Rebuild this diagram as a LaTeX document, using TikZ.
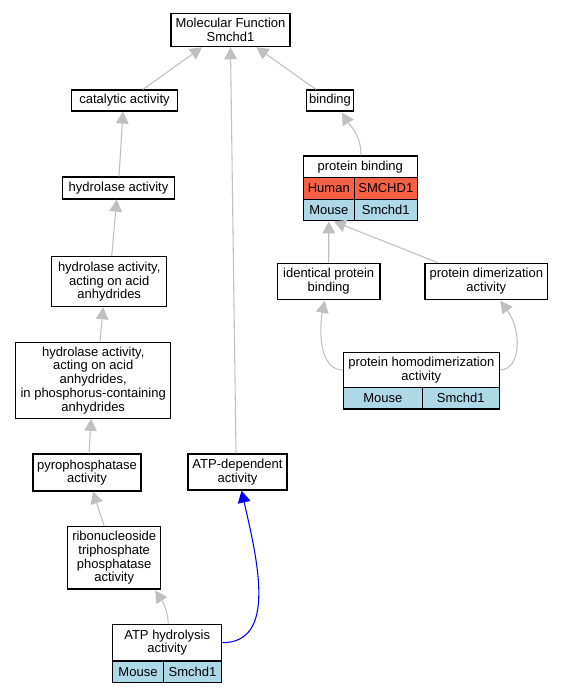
\documentclass[tikz,border=0pt]{standalone}
\usepackage{fontspec}
\setmainfont{Liberation Sans}
\usetikzlibrary{arrows.meta,calc}
\definecolor{edgegray}{RGB}{192,192,192}
\definecolor{humanred}{RGB}{250,97,68}
\definecolor{mouseblue}{RGB}{173,216,230}
\begin{document}
\begin{tikzpicture}[x=0.75pt,y=-0.75pt,
  box/.style={draw=black, line width=0.85pt, fill=white, inner sep=0pt, align=center,
    font=\fontsize{9.75}{10.3}\selectfont},
  sz/.style 2 args={minimum width=#1*0.75pt, minimum height=#2*0.75pt},
  human/.style={box, fill=humanred},
  mouse/.style={box, fill=mouseblue},
  edge/.style={draw=edgegray, line width=0.8pt, -{Triangle[length=9pt,width=9.5pt]}},
  blueedge/.style={draw=blue, line width=0.8pt, -{Triangle[length=9pt,width=9.5pt]}}]
\useasboundingbox (0,0) rectangle (564,693);

% plain nodes
\node[box, sz={119}{33.4}] (mf) at (230.5,30) {Molecular Function\\Smchd1};
\node[box, sz={105.6}{21}] (cat) at (124.5,100.5) {catalytic activity};
\node[box, sz={46.6}{21}] (bind) at (330,100.5) {binding};
\node[box, sz={111.6}{22}] (hyd) at (118.5,188) {hydrolase activity};
\node[box, sz={115}{50}] (hyda) at (109.2,281.7) {hydrolase activity,\\acting on acid\\anhydrides};
\node[box, sz={102.7}{36}] (idp) at (328.7,281.3) {identical protein\\binding};
\node[box, sz={122.7}{36}] (dim) at (486.3,281.3) {protein dimerization\\activity};
\node[box, sz={155}{76}] (hydp) at (93.2,380.3) {hydrolase activity,\\acting on acid\\anhydrides,\\in phosphorus-containing\\anhydrides};
\node[box, sz={108}{37}] (pyro) at (87,472.5) {pyrophosphatase\\activity};
\node[box, sz={99}{36}] (atpd) at (237.5,472) {ATP-dependent\\activity};
\node[box, sz={93}{62.3}] (ribo) at (114.2,557.8) {ribonucleoside\\triphosphate\\phosphatase\\activity};

% protein binding table
\node[box, sz={114}{21.7}] (pb) at (360.3,166.8) {protein binding};
\node[human, sz={51}{21.6}] (pbh1) at (328.8,188.5) {Human};
\node[human, sz={63}{21.6}] (pbh2) at (385.8,188.5) {SMCHD1};
\node[mouse, sz={51}{21.6}] (pbm1) at (328.8,210.1) {Mouse};
\node[mouse, sz={63}{21.6}] (pbm2) at (385.8,210.1) {Smchd1};

% protein homodimerization table
\node[box, sz={156}{35.4}] (hd) at (421.3,370) {protein homodimerization\\activity};
\node[mouse, sz={79}{21.3}] (hdm1) at (382.8,398.3) {Mouse};
\node[mouse, sz={77}{21.3}] (hdm2) at (460.8,398.3) {Smchd1};

% ATP hydrolysis table
\node[box, sz={109}{36.7}] (ah) at (167.2,642.7) {ATP hydrolysis\\activity};
\node[mouse, sz={50.6}{21.3}] (ahm1) at (138,671.7) {Mouse};
\node[mouse, sz={58.4}{21.3}] (ahm2) at (192.5,671.7) {Smchd1};

% edges
\draw[edge] ($(cat.north)+(18.5,0)$) -- ($(mf.south)+(-28.5,0)$);
\draw[edge] ($(atpd.north)+(-1.5,0)$) -- (mf.south);
\draw[edge] ($(bind.north)+(-14,0)$) -- ($(mf.south)+(26,0)$);
\draw[edge] ($(hyd.north)+(0.5,0)$) -- ($(cat.south)+(-1.5,0)$);
\draw[edge] ($(pb.north)+(0.7,0)$) .. controls ($(pb.north)+(0.7,-21)$) and ($(bind.south)+(20,14)$) .. ($(bind.south)+(12,1)$);
\draw[edge] ($(hyda.north)+(2.5,0)$) -- ($(hyd.south)+(-1.8,0)$);
\draw[edge] (idp.north) -- (pbm1.south);
\draw[edge] ($(dim.north)+(-48.3,0)$) -- ($(pbm1.south)+(5,0)$);
\draw[edge] ($(hydp.north)+(6.8,0)$) -- ($(hyda.south)+(-6,0)$);
\draw[edge] ($(pyro.north)+(2,0)$) -- ($(hydp.south)+(-2,0)$);
\draw[edge] ($(ribo.north)+(-10,0)$) -- ($(pyro.south)+(6,0)$);
\draw[edge] ($(ah.north)+(1,0)$) .. controls ($(ah.north)+(1,-14)$) and ($(ribo.south)+(47,10)$) .. ($(ribo.south)+(41,1)$);
\draw[edge] (hd.west) .. controls ($(hd.west)+(-23,0)$) and ($(idp.south)+(-10,31)$) .. ($(idp.south)+(-4,1)$);
\draw[edge] (hd.east) .. controls ($(hd.east)+(21,0)$) and ($(dim.south)+(36,31)$) .. ($(dim.south)+(14,1)$);
\draw[blueedge] (ah.east) .. controls ($(ah.east)+(55,0)$) and ($(atpd.south)+(20,70)$) .. ($(atpd.south)+(4,0)$);
\end{tikzpicture}
\end{document}
